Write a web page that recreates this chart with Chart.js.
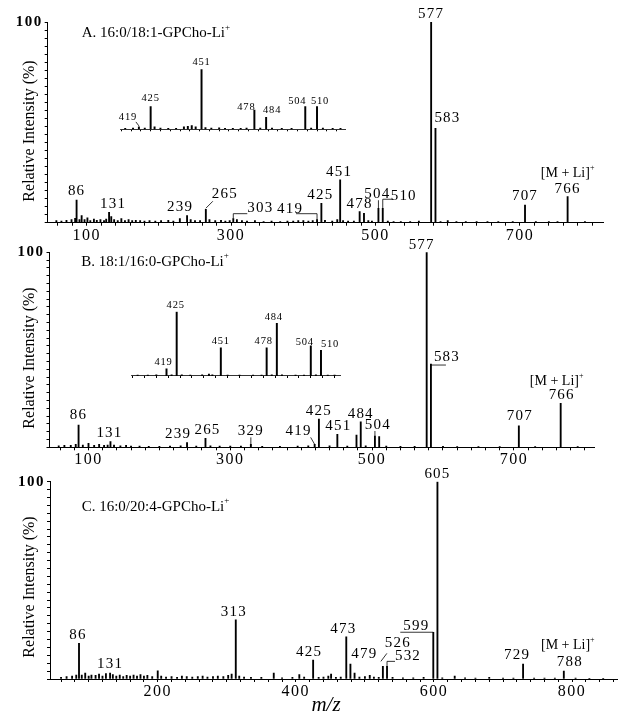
<!DOCTYPE html>
<html>
<head>
<meta charset="utf-8">
<script src="https://cdn.jsdelivr.net/npm/chart.js@4.4.1/dist/chart.umd.min.js"></script>
<style>
  body { margin: 0; background: #fff; }
  #wrap { position: relative; width: 625px; height: 718px; }
  #wrap canvas { position: absolute; left: 0; top: 0; }
</style>
</head>
<body>
<div id="wrap">
  <canvas id="panelA" width="625" height="718"></canvas>
  <canvas id="insetA" width="625" height="718"></canvas>
  <canvas id="panelB" width="625" height="718"></canvas>
  <canvas id="insetB" width="625" height="718"></canvas>
  <canvas id="panelC" width="625" height="718"></canvas>
</div>
<script>
// A. 16:0/18:1-GPCho-Li+  (m/z, relative intensity %)
const mzA  = [58, 65, 72, 79, 84, 86, 90, 93, 97, 101, 105, 110, 114, 119, 124, 127, 131, 134, 138, 143, 148, 153, 158, 163, 168, 174, 180, 187, 195, 203, 213, 220, 229, 239, 244, 250, 257, 265, 270, 278, 286, 292, 298, 303, 308, 315, 322, 333, 345, 356, 368, 378, 386, 393, 400, 407, 413, 419, 425, 430, 440, 447, 451, 455, 462, 470, 478, 484, 490, 495, 504, 510, 517, 525, 535, 548, 560, 577, 583, 590, 600, 612, 625, 640, 655, 670, 690, 707, 722, 740, 752, 766, 790];
const intA = [1, 0.8, 1.2, 1.5, 2.2, 11.3, 1.5, 3.5, 1.5, 2.4, 1, 1.8, 1.2, 1.6, 1, 1.8, 5.2, 3, 1.5, 1, 2, 1, 1.5, 1, 1.2, 1, 0.8, 1, 0.8, 1, 1.2, 0.8, 2, 3.5, 1.5, 1, 1, 6.7, 1.5, 1, 1.2, 0.8, 1, 2, 1.5, 1, 0.8, 1, 0.6, 0.8, 0.6, 0.8, 0.8, 1, 1, 0.8, 1, 1.5, 9.7, 1.2, 0.8, 1.5, 21.3, 1, 0.8, 0.8, 5.5, 4.7, 1, 0.8, 7.2, 7.2, 0.8, 0.6, 0.6, 0.6, 0.8, 100, 47, 0.6, 1, 0.6, 0.6, 0.5, 0.6, 0.5, 0.5, 8.8, 0.5, 0.6, 0.5, 13, 0.5];

// inset of A, 410-525 region (451 = 100)
const insetMzA  = [412, 416, 419, 422, 425, 427, 430, 434, 438, 442, 444, 446, 448, 451, 453, 456, 460, 463, 467, 471, 474, 478, 481, 484, 487, 492, 497, 504, 507, 510, 513, 518, 522];
const insetIntA = [1.5, 2, 4, 2, 38, 4, 2, 1.5, 1.5, 4, 5, 6, 4, 100, 3, 2, 2.5, 1.5, 1.5, 1.5, 2, 32, 2, 20, 2, 1.5, 1.5, 38, 2, 38, 2, 1.5, 1.5];

// B. 18:1/16:0-GPCho-Li+
const mzB  = [58, 66, 75, 82, 86, 92, 100, 108, 115, 122, 127, 131, 136, 145, 153, 160, 172, 185, 200, 215, 230, 239, 252, 265, 272, 285, 300, 315, 329, 345, 370, 395, 410, 419, 425, 440, 451, 465, 478, 484, 491, 504, 510, 520, 540, 560, 577, 583, 600, 620, 650, 680, 707, 730, 766, 790];
const intB = [0.8, 1, 1, 1.5, 11.4, 1.2, 2, 1, 1.5, 1, 1.2, 2.9, 1.2, 0.8, 1, 0.6, 0.6, 0.5, 0.5, 0.6, 0.8, 2.4, 0.6, 4.6, 0.8, 0.6, 0.6, 0.6, 1.5, 0.5, 0.5, 0.6, 0.8, 1.5, 14.5, 0.8, 6.7, 0.6, 6.3, 13.1, 0.8, 5.8, 5.5, 0.6, 0.5, 0.5, 100, 42.7, 0.5, 0.4, 0.4, 0.4, 11, 0.4, 22.6, 0.4];

// inset of B, 398-521 region (425 = 100)
const insetMzB  = [402, 408, 413, 419, 422, 425, 428, 433, 440, 444, 446, 451, 455, 462, 470, 475, 478, 481, 484, 487, 495, 500, 504, 507, 510, 514, 518];
const insetIntB = [1.5, 1.5, 2, 11, 2, 100, 2, 1.5, 2, 3, 2, 44, 1.5, 1.5, 1.5, 1.5, 44, 2, 82, 2, 1.5, 1.5, 47, 2, 40, 1.5, 1.5];

// C. 16:0/20:4-GPCho-Li+
const mzC  = [60, 68, 76, 82, 86, 90, 95, 100, 104, 110, 115, 120, 125, 131, 135, 140, 145, 150, 155, 160, 165, 170, 175, 180, 185, 192, 200, 205, 212, 220, 228, 235, 242, 250, 258, 265, 272, 280, 287, 295, 302, 307, 313, 318, 325, 335, 350, 368, 380, 395, 405, 412, 425, 433, 440, 447, 451, 458, 465, 473, 479, 485, 492, 500, 507, 513, 520, 526, 532, 540, 555, 570, 585, 599, 605, 612, 630, 645, 660, 680, 700, 715, 729, 745, 760, 775, 788, 805, 825, 845];
const intC = [0.8, 1.2, 1.5, 2, 18.1, 2, 3, 1.5, 2, 1.8, 2.5, 1.5, 2.8, 3, 2.2, 1.5, 2, 1.2, 1.8, 1.5, 2, 1.5, 2.2, 1.5, 1.8, 1.2, 4.2, 1.5, 1, 1.2, 0.8, 1.5, 1.2, 1, 1.2, 1.5, 1, 1.2, 1.5, 1.2, 1.8, 2.5, 30, 1.5, 1, 0.8, 0.8, 3, 0.6, 0.8, 2.2, 1, 9.6, 0.8, 1, 1.5, 2.5, 0.8, 1, 21.4, 7.6, 3, 1, 1.2, 1.8, 1, 0.8, 6.4, 6.4, 0.8, 0.6, 0.6, 0.8, 23.7, 100, 0.6, 1.5, 0.6, 0.5, 0.8, 0.5, 0.5, 7.6, 0.5, 0.5, 0.5, 4, 0.5, 0.4, 0.4];

// axis tick labels
const xLabelsAB = [100, 300, 500, 700];
const xLabelsC  = [200, 400, 600, 800];
const yLabels   = [100];

const SERIF = '"Liberation Serif", "DejaVu Serif", serif';

// where the peak labels sit relative to their peak top (pixels)
const notesA = [
  { mz: 86, dx: 0, dy: -9 },
  { mz: 131, dx: 4, dy: -8 },
  { mz: 239, dx: -7, dy: -9 },
  { mz: 265, dx: 19, dy: -15, line: [[0, -1], [7, -8]] },
  { mz: 303, dx: 27, dy: -11, line: [[0, 0], [0, -5], [14, -5]] },
  { mz: 419, dx: -27, dy: -11, line: [[0, 0], [0, -6], [-21, -6]] },
  { mz: 425, dx: -1, dy: -8 },
  { mz: 451, dx: -1, dy: -8 },
  { mz: 478, dx: 0, dy: -8 },
  { mz: 504, dx: -1, dy: -14, line: [[0, 0], [0, -8]] },
  { mz: 510, dx: 21, dy: -12, line: [[0, 0], [0, -9], [10, -9]] },
  { mz: 577, dx: 0, dy: -7.5 },
  { mz: 583, dx: 12, dy: -10 },
  { mz: 707, dx: 0, dy: -9 },
  { mz: 766, dx: 0, dy: -8 },
  { mz: 766, text: '[M + Li]', sup: '+', dx: 0, dy: -23 }
];
const notesB = [
  { mz: 86, dx: 0, dy: -10 },
  { mz: 131, dx: -1, dy: -9 },
  { mz: 239, dx: -9, dy: -9 },
  { mz: 265, dx: 2, dy: -8 },
  { mz: 329, dx: 0, dy: -13.5, line: [[0, 2], [0, -7]] },
  { mz: 419, dx: -16, dy: -13, line: [[-4, -7], [0, 0]] },
  { mz: 425, dx: 0, dy: -8 },
  { mz: 451, dx: 1, dy: -8 },
  { mz: 484, dx: 0, dy: -8 },
  { mz: 504, dx: 3, dy: -11, line: [[0, 0], [0, -5]] },
  { mz: 577, dx: -5, dy: -7.5 },
  { mz: 583, dx: 16, dy: -7, line: [[0, 1], [15, 1]] },
  { mz: 707, dx: 1, dy: -10 },
  { mz: 766, dx: 1, dy: -8 },
  { mz: 766, text: '[M + Li]', sup: '+', dx: -4, dy: -22 }
];
const notesC = [
  { mz: 86, dx: -1, dy: -8 },
  { mz: 131, dx: 0, dy: -9 },
  { mz: 313, dx: -2, dy: -8 },
  { mz: 425, dx: -4, dy: -8 },
  { mz: 473, dx: -3, dy: -8 },
  { mz: 479, dx: 14, dy: -10 },
  { mz: 526, dx: 15, dy: -23, line: [[-2, -5], [4, -13]] },
  { mz: 532, dx: 21, dy: -10, line: [[0, 0], [0, -5], [8, -5]] },
  { mz: 599, dx: -17, dy: -6.5, line: [[-33, 0], [0, 0]] },
  { mz: 605, dx: 0, dy: -8 },
  { mz: 729, dx: -6, dy: -9 },
  { mz: 788, dx: 6, dy: -9 },
  { mz: 788, text: '[M + Li]', sup: '+', dx: 4, dy: -26 }
];
const insetNotesA = [
  { mz: 419, dx: -11, dy: -10, line: [[-3, -5], [0, -1]] },
  { mz: 425, dx: 0, dy: -8 },
  { mz: 451, dx: 0, dy: -7 },
  { mz: 478, dx: -8, dy: -3 },
  { mz: 484, dx: 6, dy: -7 },
  { mz: 504, dx: -8, dy: -5 },
  { mz: 510, dx: 3, dy: -5 }
];
const insetNotesB = [
  { mz: 419, dx: -3, dy: -7 },
  { mz: 425, dx: -1, dy: -6 },
  { mz: 451, dx: 0, dy: -6 },
  { mz: 478, dx: -3, dy: -6 },
  { mz: 484, dx: -3, dy: -6 },
  { mz: 504, dx: -6, dy: -4 },
  { mz: 510, dx: 9, dy: -6 }
];

function toPoints(mz, ints) {
  return mz.map((m, i) => ({ x: m, y: ints[i] }));
}

// text with a small raised "+" after it
function drawSup(ctx, text, sup, x, y, size, align) {
  ctx.font = size + 'px ' + SERIF;
  const w = ctx.measureText(text).width;
  ctx.font = Math.round(size * 0.6) + 'px ' + SERIF;
  const ws = ctx.measureText(sup).width;
  const left = align === 'left' ? x : x - (w + ws) / 2;
  ctx.textAlign = 'left';
  ctx.font = size + 'px ' + SERIF;
  ctx.fillText(text, left, y);
  ctx.font = Math.round(size * 0.6) + 'px ' + SERIF;
  ctx.fillText(sup, left + w, y - size * 0.38);
}

const spacingPlugin = {
  id: 'spacing',
  beforeDraw(chart) { chart.ctx.letterSpacing = '1.5px'; }
};

const notesPlugin = {
  id: 'peakNotes',
  afterDraw(chart, args, opts) {
    const { ctx } = chart;
    const x = chart.scales.x, y = chart.scales.y;
    const pts = chart.data.datasets[0].data;
    ctx.save();
    ctx.fillStyle = '#000';
    ctx.strokeStyle = '#000';
    ctx.lineWidth = 0.8;
    ctx.textBaseline = 'middle';
    (opts.notes || []).forEach(n => {
      const p = pts.find(d => d.x === n.mz);
      const px = x.getPixelForValue(n.mz);
      const py = y.getPixelForValue(p.y);
      if (n.line) {
        ctx.beginPath();
        n.line.forEach(([a, b], i) => i ? ctx.lineTo(px + a, py + b) : ctx.moveTo(px + a, py + b));
        ctx.stroke();
      }
      if (n.sup) {
        ctx.letterSpacing = '0px';
        drawSup(ctx, n.text, n.sup, px + n.dx, py + n.dy, 14, 'center');
      } else {
        ctx.letterSpacing = opts.spacing;
        ctx.textAlign = 'center';
        ctx.font = opts.size + 'px ' + SERIF;
        ctx.fillText(String(n.mz), px + n.dx, py + n.dy);
      }
    });
    ctx.letterSpacing = '0px';
    if (opts.caption) {
      drawSup(ctx, opts.caption.text, '+', opts.caption.x, opts.caption.y, 15, 'left');
    }
    if (opts.yTitle) {
      ctx.save();
      ctx.translate(opts.yTitle.x, opts.yTitle.y);
      ctx.rotate(-Math.PI / 2);
      ctx.textAlign = 'center';
      ctx.font = '16px ' + SERIF;
      ctx.fillText('Relative Intensity (%)', 0, 0);
      ctx.restore();
    }
    if (opts.xTitle) {
      ctx.textAlign = 'center';
      ctx.font = 'italic 21px ' + SERIF;
      ctx.fillText(opts.xTitle.text, opts.xTitle.x, opts.xTitle.y);
    }
    ctx.restore();
  }
};

function makePanel(id, mz, ints, frame, xMin, xMax, xLabels, notes, extra) {
  return new Chart(document.getElementById(id), {
    type: 'bar',
    data: { datasets: [{ data: toPoints(mz, ints), backgroundColor: '#000', barThickness: 1.2 }] },
    options: {
      responsive: false,
      animation: false,
      events: [],
      layout: { padding: { left: 0, top: frame.top, right: 625 - frame.right, bottom: 718 - frame.bottom - 20 } },
      plugins: {
        legend: { display: false },
        tooltip: { enabled: false },
        peakNotes: Object.assign({ notes, size: 15, spacing: '1.2px' }, extra)
      },
      scales: {
        x: {
          type: 'linear', min: xMin, max: xMax, offset: false,
          grid: { drawOnChartArea: false, tickLength: 3, color: '#000', offset: false },
          border: { color: '#000', width: 1 },
          ticks: {
            stepSize: 20, autoSkip: false, maxRotation: 0, padding: 0, includeBounds: false,
            color: '#000', font: { family: SERIF, size: 16 },
            callback: v => xLabels.includes(v) ? String(v) : ''
          },
          afterFit: s => { s.height = 20; }
        },
        y: {
          min: 0, max: 100,
          grid: { drawOnChartArea: false, tickLength: 3, color: '#000' },
          border: { color: '#000', width: 1 },
          ticks: {
            stepSize: 4, autoSkip: false, padding: 2,
            color: '#000', font: { family: SERIF, size: 15, weight: 'bold' },
            callback: v => yLabels.includes(v) ? String(v) : ''
          },
          afterFit: s => { s.width = frame.left; }
        }
      }
    },
    plugins: [spacingPlugin, notesPlugin]
  });
}

function makeInset(id, mz, ints, frame, xMin, xMax, step, notes) {
  return new Chart(document.getElementById(id), {
    type: 'bar',
    data: { datasets: [{ data: toPoints(mz, ints), backgroundColor: '#000', barThickness: 1.3 }] },
    options: {
      responsive: false,
      animation: false,
      events: [],
      layout: { padding: { left: frame.left, top: frame.top, right: 625 - frame.right, bottom: 718 - frame.bottom - 4 } },
      plugins: {
        legend: { display: false },
        tooltip: { enabled: false },
        peakNotes: { notes, size: 10.5, spacing: '0.8px' }
      },
      scales: {
        x: {
          type: 'linear', min: xMin, max: xMax, offset: false,
          grid: { drawOnChartArea: false, tickLength: 2, color: '#000', offset: false },
          border: { color: '#000', width: 0.8 },
          ticks: { stepSize: step, autoSkip: false, includeBounds: false, callback: () => '' },
          afterFit: s => { s.height = 4; }
        },
        y: { display: false, min: 0, max: 100 }
      }
    },
    plugins: [notesPlugin]
  });
}

makePanel('panelA', mzA, intA, { left: 47.7, top: 22, right: 603, bottom: 222.7 }, 46, 815, xLabelsAB, notesA,
  { caption: { text: 'A. 16:0/18:1-GPCho-Li', x: 81.7, y: 33 }, yTitle: { x: 30, y: 131 } });
makeInset('insetA', insetMzA, insetIntA, { left: 120.7, top: 69.3, right: 345, bottom: 129.3 }, 409.7, 524.3, 5, insetNotesA);

makePanel('panelB', mzB, intB, { left: 49.5, top: 252.3, right: 594, bottom: 447.3 }, 45, 813, xLabelsAB, notesB,
  { caption: { text: 'B. 18:1/16:0-GPCho-Li', x: 81.2, y: 261.7 }, yTitle: { x: 30, y: 358 } });
makeInset('insetB', insetMzB, insetIntB, { left: 131.7, top: 311.7, right: 340, bottom: 376 }, 398.5, 521.2, 7, insetNotesB);

makePanel('panelC', mzC, intC, { left: 50, top: 481.7, right: 617, bottom: 679 }, 44, 865, xLabelsC, notesC,
  { caption: { text: 'C. 16:0/20:4-GPCho-Li', x: 81.7, y: 506.7 }, yTitle: { x: 30, y: 587 },
    xTitle: { text: 'm/z', x: 326, y: 705 } });
</script>
</body>
</html>
